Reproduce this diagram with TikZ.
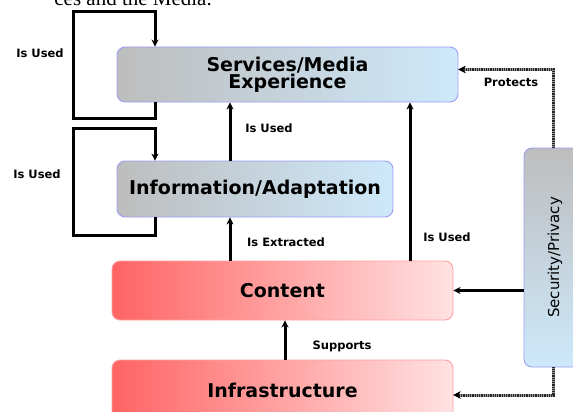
\documentclass[tikz,border=0pt]{standalone}
\usepackage{fontspec}
\setmainfont{DejaVu Sans}
\newfontfamily\capfont{Liberation Serif}
\usetikzlibrary{arrows.meta}
\definecolor{grayL}{HTML}{BDBDBD}
\definecolor{blueR}{HTML}{CDE9FB}
\definecolor{bordB}{HTML}{9C9CF5}
\definecolor{redL}{HTML}{FF6464}
\definecolor{redR}{HTML}{FFE2E2}
\definecolor{bordR}{HTML}{FFA0A0}
\begin{document}
\begin{tikzpicture}[x=1pt,y=-1pt,
  box/.style={draw=bordB, line width=0.9pt, rounded corners=8pt, font=\bfseries\fontsize{19}{14}\selectfont, align=center, inner sep=0pt},
  bluebox/.style={box, left color=grayL, right color=blueR},
  redbox/.style={box, draw=bordR, left color=redL, right color=redR},
  lbl/.style={font=\bfseries\fontsize{11.5}{12}\selectfont, inner sep=0pt},
  arr/.style={line width=3pt, -{Stealth[length=7pt,width=7pt]}},
  loopline/.style={line width=3pt, -{Stealth[length=7pt,width=7pt]}},
  secline/.style={line width=3pt, draw=black!85, dash pattern=on 1pt off 0.8pt,
     preaction={draw=black!40, solid, line width=3pt}, -{Stealth[length=7pt,width=7pt,color=black,fill=black]}}
]
\useasboundingbox (0,0) rectangle (573,412);
\clip (0,0) rectangle (573,412);
% caption fragment
\node[anchor=base east, inner sep=0pt, font=\capfont\fontsize{21}{21}\selectfont] (cap) at (212,6) {ces and the Media.};
% boxes
\node[bluebox, minimum width=341pt, minimum height=55pt] (serv) at (287.5,74.5) {Services/Media\\Experience};
\node[bluebox, minimum width=276pt, minimum height=56pt] (info) at (255,189) {Information/Adaptation};
\node[redbox, minimum width=341pt, minimum height=59pt] (cont) at (282.5,290.5) {Content};
\node[redbox, minimum width=341pt, minimum height=60pt] (infra) at (282.5,390) {Infrastructure};
\node[draw=bordB, line width=0.9pt, rounded corners=8pt, top color=grayL, bottom color=blueR,
      minimum width=219pt, minimum height=62pt, inner sep=0pt, rotate=90,
      font=\fontsize{15}{15}\selectfont] (sec) at (555,257.5) {Security/Privacy};
% helper coordinates
\coordinate (xa) at (230,0);
\coordinate (xb) at (410,0);
\coordinate (xc) at (285,0);
\coordinate (xl) at (155,0);
\coordinate (xs) at (553,0);
% loops
\draw[loopline] (serv.south -| xl) -- ++(0,16) -| (73,12) -| (serv.north -| xl);
\draw[loopline] (info.south -| xl) -- ++(0,18) -| (73,128) -| (info.north -| xl);
% vertical arrows
\draw[arr] (info.north -| xa) -- (serv.south -| xa);
\draw[arr] (cont.north -| xa) -- (info.south -| xa);
\draw[arr] (cont.north -| xb) -- (serv.south -| xb);
\draw[arr] (infra.north -| xc) -- (cont.south -| xc);
\draw[arr] (sec.north |- cont.east) -- (cont.east);
% security lines (rotated node on a y-down canvas: sec.east is its top, sec.west its bottom)
\draw[secline] (sec.east -| xs) |- ([yshift=5pt]serv.east);
\draw[secline] (sec.west -| xs) |- ([yshift=-5pt]infra.east);
% labels
\node[lbl] (l1) at (40,53) {Is Used};
\node[lbl] (l2) at (37,174) {Is Used};
\node[lbl] (l3) at (269,128) {Is Used};
\node[lbl] (l4) at (286,242) {Is Extracted};
\node[lbl] (l5) at (447,237) {Is Used};
\node[lbl] (l6) at (342,346) {Supports};
\node[lbl] (l7) at (511,82) {Protects};
\end{tikzpicture}
\end{document}
